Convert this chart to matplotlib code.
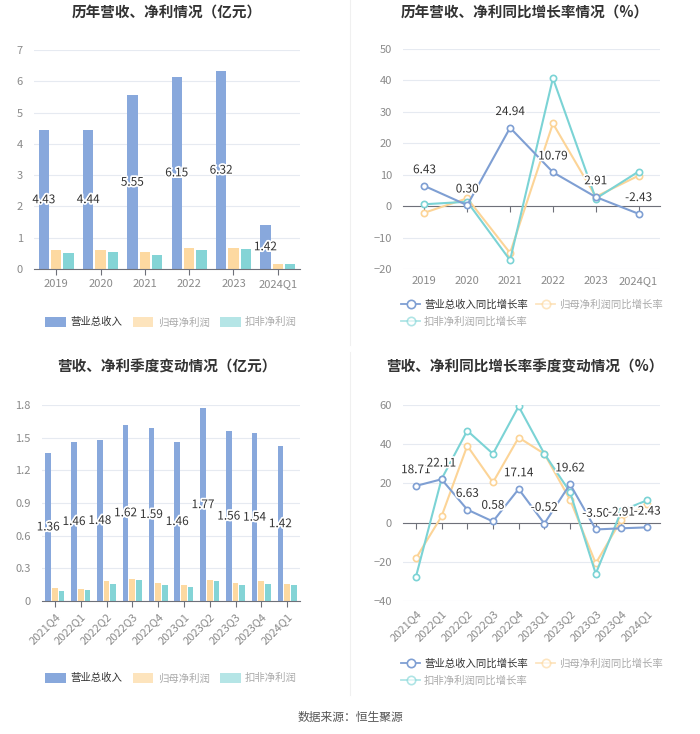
import numpy as np
import matplotlib
matplotlib.use("Agg")
import matplotlib.pyplot as plt
import matplotlib.patheffects as pe
from matplotlib.lines import Line2D
from matplotlib.patches import Patch

plt.rcParams['font.family'] = ['Noto Sans CJK SC', 'DejaVu Sans']

#---------------------------------
# data
years = ["2019", "2020", "2021", "2022", "2023", "2024Q1"]
rev_year = [4.43, 4.44, 5.55, 6.15, 6.32, 1.42]
np_year = [0.61, 0.62, 0.53, 0.67, 0.68, 0.16]
dnp_year = [0.52, 0.53, 0.44, 0.62, 0.64, 0.15]

rev_year_g = [6.43, 0.30, 24.94, 10.79, 2.91, -2.43]
np_year_g = [-2.1, 2.5, -14.9, 26.3, 3.0, 9.7]
dnp_year_g = [0.6, 1.4, -17.2, 40.7, 2.4, 11.0]

quarters = ["2021Q4", "2022Q1", "2022Q2", "2022Q3", "2022Q4",
            "2023Q1", "2023Q2", "2023Q3", "2023Q4", "2024Q1"]
rev_q = [1.36, 1.46, 1.48, 1.62, 1.59, 1.46, 1.77, 1.56, 1.54, 1.42]
np_q = [0.12, 0.11, 0.18, 0.20, 0.165, 0.145, 0.19, 0.165, 0.18, 0.16]
dnp_q = [0.09, 0.10, 0.16, 0.19, 0.145, 0.125, 0.18, 0.145, 0.16, 0.145]

rev_q_g = [18.71, 22.11, 6.63, 0.58, 17.14, -0.52, 19.62, -3.50, -2.91, -2.43]
np_q_g = [-18.3, 3.2, 39.2, 20.5, 43.4, 35.1, 11.7, -20.8, 1.5, 9.7]
dnp_q_g = [-27.8, 22.2, 46.9, 35.1, 59.3, 35.1, 15.6, -26.1, 6.1, 11.4]

bar_names = ["营业总收入", "归母净利润", "扣非净利润"]
line_names = ["营业总收入同比增长率", "归母净利润同比增长率", "扣非净利润同比增长率"]

#---------------------------------
# style
W, H = 700, 734
c_blue = "#88a8dc"
c_orange = "#fdd9a1"
c_teal = "#84d4d6"
l_blue = "#7f9fd3"
l_orange = "#fcd497"
l_teal = "#7bd3d5"
grid_c = "#e6eaf1"
tick_c = "#8a8a8a"
text_c = "#333333"

fig = plt.figure(figsize=(W / 100, H / 100), dpi=100)


def rect(l, t, r, b):
    return [l / W, 1 - b / H, (r - l) / W, (b - t) / H]


def style_ax(ax):
    for s in ["top", "right", "left"]:
        ax.spines[s].set_visible(False)
    ax.grid(axis="y", color=grid_c, linewidth=0.8)
    ax.set_axisbelow(True)
    ax.tick_params(axis="y", length=0, labelcolor=tick_c, labelsize=8, pad=8)
    ax.tick_params(axis="x", labelcolor=tick_c, labelsize=8, color="#6e7079", length=4)


outline = [pe.withStroke(linewidth=2.5, foreground="white")]


def bar_chart(ax, cats, a, b, c, ymax, ystep, w, off, rotate=False):
    x = np.arange(len(cats))
    ax.bar(x - off, a, w, color=c_blue)
    ax.bar(x, b, w, color=c_orange)
    ax.bar(x + off, c, w, color=c_teal)
    for xi, v in zip(x, a):
        ax.text(xi - off, v / 2, f"{v:.2f}", ha="center", va="center",
                fontsize=8.5, color=text_c, path_effects=outline)
    style_ax(ax)
    ax.spines["bottom"].set_color("#6e7079")
    ax.set_xlim(-0.5, len(cats) - 0.5)
    ax.set_ylim(0, ymax)
    ax.set_yticks(np.arange(0, ymax + ystep / 2, ystep))
    ax.set_xticks(x)
    if rotate:
        ax.set_xticklabels(cats, rotation=45, ha="right", rotation_mode="anchor")
    else:
        ax.set_xticklabels(cats)


def line_chart(ax, cats, a, b, c, ylo, yhi, ystep, rotate=False):
    x = np.arange(len(cats))
    ax.plot(x, b, color=l_orange, lw=1.5, marker="o", ms=4.5, mfc="white", mew=1.2, zorder=3)
    ax.plot(x, c, color=l_teal, lw=1.5, marker="o", ms=4.5, mfc="white", mew=1.2, zorder=3)
    ax.plot(x, a, color=l_blue, lw=1.5, marker="o", ms=4.5, mfc="white", mew=1.2, zorder=4)
    for xi, v in zip(x, a):
        ax.annotate(f"{v:.2f}", (xi, v), xytext=(0, 7), textcoords="offset points",
                    ha="center", va="bottom", fontsize=8.5, color=text_c,
                    path_effects=outline, zorder=5)
    style_ax(ax)
    ax.spines["bottom"].set_position(("data", 0))
    ax.spines["bottom"].set_color("#6e7079")
    ax.set_xlim(-0.5, len(cats) - 0.5)
    ax.set_ylim(ylo, yhi)
    ax.set_yticks(np.arange(ylo, yhi + ystep / 2, ystep))
    ax.set_xticks(x)
    ax.tick_params(axis="x", labelbottom=False)
    sec = ax.secondary_xaxis(0)
    sec.spines["bottom"].set_visible(False)
    sec.set_xticks(x)
    sec.tick_params(length=0, labelcolor=tick_c, labelsize=8, pad=5)
    if rotate:
        sec.set_xticklabels(cats, rotation=45, ha="right", rotation_mode="anchor")
    else:
        sec.set_xticklabels(cats)


# top left
ax1 = fig.add_axes(rect(34, 50, 300, 269))
bar_chart(ax1, years, rev_year, np_year, dnp_year, 7, 1, 0.23, 0.28)
# top right
ax2 = fig.add_axes(rect(403, 49, 660, 269))
line_chart(ax2, years, rev_year_g, np_year_g, dnp_year_g, -20, 50, 10)
# bottom left
ax3 = fig.add_axes(rect(42, 405, 300, 601))
bar_chart(ax3, quarters, rev_q, np_q, dnp_q, 1.8, 0.3, 0.22, 0.26, rotate=True)
ax3.set_yticklabels(["0", "0.3", "0.6", "0.9", "1.2", "1.5", "1.8"])
# bottom right
ax4 = fig.add_axes(rect(403, 405, 660, 601))
line_chart(ax4, quarters, rev_q_g, np_q_g, dnp_q_g, -40, 60, 20, rotate=True)

# titles
title_kw = dict(ha="center", va="center", fontsize=10.5, fontweight="bold", color=text_c)
fig.text(167 / W, 1 - 13 / H, "历年营收、净利情况（亿元）", **title_kw)
fig.text(525 / W, 1 - 13 / H, "历年营收、净利同比增长率情况（%）", **title_kw)
fig.text(167 / W, 1 - 367 / H, "营收、净利季度变动情况（亿元）", **title_kw)
fig.text(525 / W, 1 - 367 / H, "营收、净利同比增长率季度变动情况（%）", **title_kw)

# legends
def bar_legend(y):
    handles = [Patch(facecolor=c_blue), Patch(facecolor=c_orange, alpha=0.7),
               Patch(facecolor=c_teal, alpha=0.6)]
    leg = fig.legend(handles, bar_names, loc="center", bbox_to_anchor=(171 / W, 1 - y / H),
                     ncol=3, frameon=False, fontsize=7.5, handlelength=2.0, handleheight=1.2,
                     columnspacing=1.0, handletextpad=0.4)
    for i, t in enumerate(leg.get_texts()):
        t.set_color(text_c if i == 0 else "#aaaaaa")


def line_legend(y):
    mk = dict(marker="o", ms=6, mfc="white", mew=1.2, lw=1.3)
    hA = Line2D([], [], color=l_blue, **mk)
    hB = Line2D([], [], color=l_orange, alpha=0.6, **mk)
    hC = Line2D([], [], color=l_teal, alpha=0.6, **mk)
    leg = fig.legend([hA, hC, hB], [line_names[0], line_names[2], line_names[1]],
                     loc="center", bbox_to_anchor=(532 / W, 1 - y / H), ncol=2,
                     frameon=False, fontsize=7.5, handlelength=1.8, columnspacing=0.8,
                     handletextpad=0.4, labelspacing=0.6)
    for i, t in enumerate(leg.get_texts()):
        t.set_color(text_c if i == 0 else "#aaaaaa")


bar_legend(322)
line_legend(313)
bar_legend(678)
line_legend(672)

# divider lines
fig.add_artist(Line2D([350 / W, 350 / W], [1 - 0 / H, 1 - 345 / H], color="#f0f0f0", lw=0.8))
fig.add_artist(Line2D([350 / W, 350 / W], [1 - 352 / H, 1 - 695 / H], color="#f0f0f0", lw=0.8))

fig.text(0.5, 1 - 717 / H, "数据来源：恒生聚源", ha="center", va="center", fontsize=8.5, color="#555555")

fig.savefig("out.png", dpi=100)
plt.close()
